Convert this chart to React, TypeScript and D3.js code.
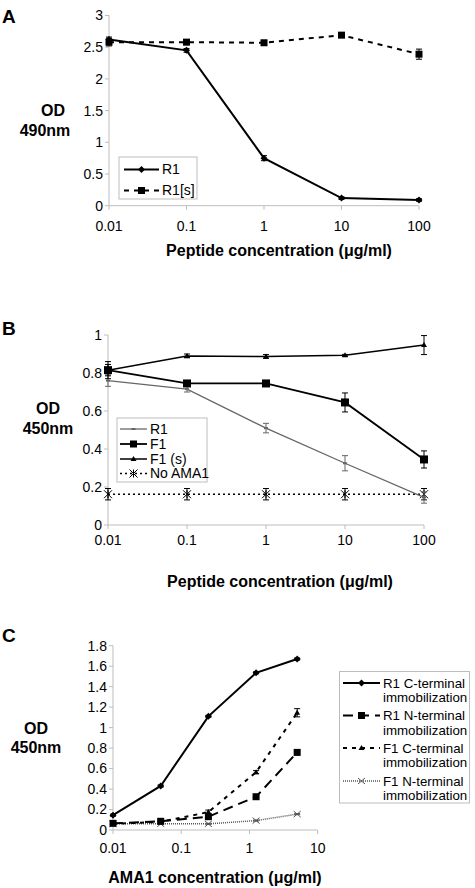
import React from "react";
import * as d3 from "d3";

// ---------- Panel A data ----------
const aX = [0.01, 0.1, 1, 10, 100];
const aR1 = [2.62, 2.45, 0.75, 0.12, 0.09];
const aR1Err = [0.04, 0.03, 0.04, 0.02, 0.02];
const aR1s = [2.58, 2.58, 2.57, 2.69, 2.39];
const aR1sErr = [0.06, 0.04, 0.03, 0.02, 0.08];
const aYTicks = [0, 0.5, 1, 1.5, 2, 2.5, 3];

// ---------- Panel B data ----------
const bX = [0.01, 0.1, 1, 10, 100];
const bR1 = [0.76, 0.715, 0.51, 0.325, 0.145];
const bR1Err = [0.03, 0.015, 0.025, 0.04, 0.03];
const bF1 = [0.815, 0.745, 0.745, 0.645, 0.345];
const bF1Err = [0.045, 0.01, 0.01, 0.05, 0.045];
const bF1s = [0.815, 0.89, 0.887, 0.893, 0.947];
const bF1sErr = [0.03, 0.01, 0.01, 0.005, 0.05];
const bNoAMA = [0.162, 0.162, 0.162, 0.162, 0.162];
const bNoAMAErr = [0.03, 0.03, 0.03, 0.03, 0.03];
const bYTicks = [0, 0.2, 0.4, 0.6, 0.8, 1];

// ---------- Panel C data ----------
const cX = [0.01, 0.05, 0.25, 1.25, 5];
const cR1C = [0.145, 0.43, 1.11, 1.535, 1.67];
const cR1CErr = [0.01, 0.01, 0.01, 0.01, 0.01];
const cR1N = [0.065, 0.085, 0.13, 0.325, 0.758];
const cR1NErr = [0.01, 0.01, 0.01, 0.01, 0.015];
const cF1C = [0.06, 0.08, 0.175, 0.565, 1.145];
const cF1CErr = [0.01, 0.01, 0.02, 0.015, 0.04];
const cF1N = [0.06, 0.06, 0.06, 0.092, 0.155];
const cF1NErr = [0.005, 0.005, 0.005, 0.005, 0.005];
const cYTicks = [0, 0.2, 0.4, 0.6, 0.8, 1, 1.2, 1.4, 1.6, 1.8];
const abXTicks = [0.01, 0.1, 1, 10, 100];
const cXTicks = [0.01, 0.1, 1, 10];

const FONT = "'Liberation Sans', Arial, Helvetica, sans-serif";
const AXIS = "#bdbdbd";

type Marker = "diamond" | "square" | "triangle" | "dash" | "star" | "x" | "bigsquare";

function MarkerShape({ type, x, y, color }: { type: Marker; x: number; y: number; color: string }) {
  switch (type) {
    case "diamond":
      return <path d={`M${x},${y - 3.5}L${x + 3.5},${y}L${x},${y + 3.5}L${x - 3.5},${y}Z`} fill={color} />;
    case "square":
      return <rect x={x - 3.5} y={y - 3.5} width={7} height={7} fill={color} />;
    case "bigsquare":
      return <rect x={x - 4} y={y - 4} width={8} height={8} fill={color} />;
    case "triangle":
      return <path d={`M${x},${y - 3}L${x + 3},${y + 2}L${x - 3},${y + 2}Z`} fill={color} />;
    case "dash":
      return <rect x={x - 2} y={y - 1} width={4} height={2} fill={color} />;
    case "star":
      return (
        <g stroke={color} strokeWidth={1}>
          <line x1={x - 4} y1={y - 4} x2={x + 4} y2={y + 4} />
          <line x1={x - 4} y1={y + 4} x2={x + 4} y2={y - 4} />
          <line x1={x} y1={y - 4} x2={x} y2={y + 4} />
        </g>
      );
    case "x":
      return (
        <g stroke={color} strokeWidth={1}>
          <line x1={x - 3.5} y1={y - 3} x2={x + 3.5} y2={y + 3} />
          <line x1={x - 3.5} y1={y + 3} x2={x + 3.5} y2={y - 3} />
        </g>
      );
  }
  return null;
}

function Series({
  xs, ys, errs, xScale, yScale, color, width, dash, marker, markerColor,
}: {
  xs: number[]; ys: number[]; errs: number[];
  xScale: d3.ScaleLogarithmic<number, number>; yScale: d3.ScaleLinear<number, number>;
  color: string; width: number; dash?: string; marker: Marker; markerColor?: string;
}) {
  const pts: [number, number][] = xs.map((x, i) => [xScale(x), yScale(ys[i])]);
  const line = d3.line()(pts) || "";
  return (
    <g>
      <path d={line} fill="none" stroke={color} strokeWidth={width} strokeDasharray={dash} />
      {pts.map(([px], i) => {
        const top = yScale(ys[i] + errs[i]);
        const bot = yScale(ys[i] - errs[i]);
        return (
          <g key={"e" + i} stroke={color} strokeWidth={1}>
            <line x1={px} y1={top} x2={px} y2={bot} />
            <line x1={px - 3} y1={top} x2={px + 3} y2={top} />
            <line x1={px - 3} y1={bot} x2={px + 3} y2={bot} />
          </g>
        );
      })}
      {pts.map(([px, py], i) => (
        <MarkerShape key={"m" + i} type={marker} x={px} y={py} color={markerColor || color} />
      ))}
    </g>
  );
}

function Axes({
  xScale, yScale, xTicks, yTicks, yFmt, xLabelY,
}: {
  xScale: d3.ScaleLogarithmic<number, number>; yScale: d3.ScaleLinear<number, number>;
  xTicks: number[]; yTicks: number[]; yFmt: (v: number) => string; xLabelY: number;
}) {
  const [x0, x1] = xScale.range();
  const [yb, yt] = yScale.range();
  return (
    <g fontFamily={FONT} fontSize={14} fill="#000">
      <line x1={x0} y1={yb} x2={x0} y2={yt} stroke={AXIS} strokeWidth={1} />
      <line x1={x0} y1={yb} x2={x1} y2={yb} stroke={AXIS} strokeWidth={1} />
      {yTicks.map((t) => (
        <g key={"y" + t}>
          <line x1={x0 - 4} x2={x0} y1={yScale(t)} y2={yScale(t)} stroke={AXIS} />
          <text x={x0 - 6} y={yScale(t)} dy="0.35em" textAnchor="end">{yFmt(t)}</text>
        </g>
      ))}
      {xTicks.map((t) => (
        <g key={"x" + t}>
          <line x1={xScale(t)} x2={xScale(t)} y1={yb} y2={yb + 4} stroke={AXIS} />
          <text x={xScale(t)} y={xLabelY} textAnchor="middle">{String(t)}</text>
        </g>
      ))}
    </g>
  );
}

function LegendItem({
  x, y, w, text, color, width, dash, marker, lines, fs = 14,
}: {
  x: number; y: number; w: number; text: string; color: string; width: number; dash?: string; marker: Marker; lines?: string[]; fs?: number;
}) {
  return (
    <g>
      <line x1={x} x2={x + w} y1={y} y2={y} stroke={color} strokeWidth={width} strokeDasharray={dash} />
      <MarkerShape type={marker} x={x + w / 2} y={y} color={color} />
      <text x={x + w + 3} y={y} dy="0.35em" fontFamily={FONT} fontSize={fs}>{text}</text>
      {lines && lines.map((l, i) => (
        <text key={i} x={x + w + 3} y={y + 14.5 * (i + 1)} dy="0.35em" fontFamily={FONT} fontSize={fs}>{l}</text>
      ))}
    </g>
  );
}

export default function App() {
  const fmt = (v: number) => String(Number(v.toFixed(1)));

  const axA = d3.scaleLog().domain([0.01, 100]).range([109, 419]);
  const ayA = d3.scaleLinear().domain([0, 3]).range([205.7, 15.5]);

  const axB = d3.scaleLog().domain([0.01, 100]).range([108, 424]);
  const ayB = d3.scaleLinear().domain([0, 1]).range([525, 335]);

  const axC = d3.scaleLog().domain([0.01, 10]).range([113, 317.7]);
  const ayC = d3.scaleLinear().domain([0, 1.8]).range([830, 645.7]);

  return (
    <svg width={475} height={888} style={{ position: "absolute", left: 0, top: 0, background: "#fff" }}>
      <rect width={475} height={888} fill="#fff" />

      {/* ---------- Panel A ---------- */}
      <text x={2} y={23} fontFamily={FONT} fontSize={19} fontWeight="bold">A</text>
      <text x={53} y={116} fontFamily={FONT} fontSize={16} fontWeight="bold" textAnchor="middle">OD</text>
      <text x={45} y={136} fontFamily={FONT} fontSize={16} fontWeight="bold" textAnchor="middle">490nm</text>
      <Axes xScale={axA} yScale={ayA} xTicks={abXTicks} yTicks={aYTicks} yFmt={fmt} xLabelY={231} />
      <Series xs={aX} ys={aR1s} errs={aR1sErr} xScale={axA} yScale={ayA} color="#000" width={2} dash="5,5" marker="square" />
      <Series xs={aX} ys={aR1} errs={aR1Err} xScale={axA} yScale={ayA} color="#000" width={2} marker="diamond" />
      <rect x={119} y={157} width={78} height={42} fill="#fff" stroke={AXIS} />
      <LegendItem x={124} y={169.5} w={35} text="R1" color="#000" width={2} marker="diamond" />
      <LegendItem x={124} y={190.5} w={35} text="R1[s]" color="#000" width={2} dash="5,5" marker="square" />
      <text x={279} y={256} fontFamily={FONT} fontSize={16} fontWeight="bold" textAnchor="middle">Peptide concentration (μg/ml)</text>

      {/* ---------- Panel B ---------- */}
      <text x={2} y={335} fontFamily={FONT} fontSize={19} fontWeight="bold">B</text>
      <text x={48} y={414} fontFamily={FONT} fontSize={16} fontWeight="bold" textAnchor="middle">OD</text>
      <text x={48} y={434} fontFamily={FONT} fontSize={16} fontWeight="bold" textAnchor="middle">450nm</text>
      <Axes xScale={axB} yScale={ayB} xTicks={abXTicks} yTicks={bYTicks} yFmt={fmt} xLabelY={545} />
      <Series xs={bX} ys={bNoAMA} errs={bNoAMAErr} xScale={axB} yScale={ayB} color="#000" width={1.5} dash="2,3" marker="star" />
      <Series xs={bX} ys={bR1} errs={bR1Err} xScale={axB} yScale={ayB} color="#666" width={1.3} marker="dash" />
      <Series xs={bX} ys={bF1s} errs={bF1sErr} xScale={axB} yScale={ayB} color="#000" width={1.5} marker="triangle" />
      <Series xs={bX} ys={bF1} errs={bF1Err} xScale={axB} yScale={ayB} color="#000" width={1.8} marker="bigsquare" />
      <rect x={117} y={418} width={90} height={64} fill="#fff" stroke={AXIS} />
      <LegendItem x={120} y={429} w={27} text="R1" color="#666" width={1.3} marker="dash" />
      <LegendItem x={120} y={444} w={27} text="F1" color="#000" width={1.8} marker="square" />
      <LegendItem x={120} y={459} w={27} text="F1 (s)" color="#000" width={1.5} marker="triangle" />
      <LegendItem x={120} y={473.5} w={27} text="No AMA1" color="#000" width={1.5} dash="2,3" marker="star" />
      <text x={280} y={587} fontFamily={FONT} fontSize={16} fontWeight="bold" textAnchor="middle">Peptide concentration (μg/ml)</text>

      {/* ---------- Panel C ---------- */}
      <text x={2} y={642} fontFamily={FONT} fontSize={19} fontWeight="bold">C</text>
      <text x={36} y={734} fontFamily={FONT} fontSize={16} fontWeight="bold" textAnchor="middle">OD</text>
      <text x={36} y={753} fontFamily={FONT} fontSize={16} fontWeight="bold" textAnchor="middle">450nm</text>
      <Axes xScale={axC} yScale={ayC} xTicks={cXTicks} yTicks={cYTicks} yFmt={fmt} xLabelY={853} />
      <Series xs={cX} ys={cF1N} errs={cF1NErr} xScale={axC} yScale={ayC} color="#555" width={1.5} dash="1,1" marker="x" />
      <Series xs={cX} ys={cR1N} errs={cR1NErr} xScale={axC} yScale={ayC} color="#000" width={2} dash="10,6" marker="square" />
      <Series xs={cX} ys={cF1C} errs={cF1CErr} xScale={axC} yScale={ayC} color="#000" width={2} dash="4,5" marker="triangle" />
      <Series xs={cX} ys={cR1C} errs={cR1CErr} xScale={axC} yScale={ayC} color="#000" width={2} marker="diamond" />
      <rect x={339.5} y={671.5} width={130} height={131.5} fill="#fff" stroke={AXIS} />
      <LegendItem x={343} y={683} w={37} fs={13.3} text="R1 C-terminal" lines={["immobilization"]} color="#000" width={2} marker="diamond" />
      <LegendItem x={343} y={715.5} w={37} fs={13.3} text="R1 N-terminal" lines={["immobilization"]} color="#000" width={2} dash="10,6" marker="square" />
      <LegendItem x={343} y={748} w={37} fs={13.3} text="F1 C-terminal" lines={["immobilization"]} color="#000" width={2} dash="4,5" marker="triangle" />
      <LegendItem x={343} y={781} w={37} fs={13.3} text="F1 N-terminal" lines={["immobilization"]} color="#555" width={1.5} dash="1,1" marker="x" />
      <text x={215} y={883} fontFamily={FONT} fontSize={16} fontWeight="bold" textAnchor="middle">AMA1 concentration (μg/ml)</text>
    </svg>
  );
}
